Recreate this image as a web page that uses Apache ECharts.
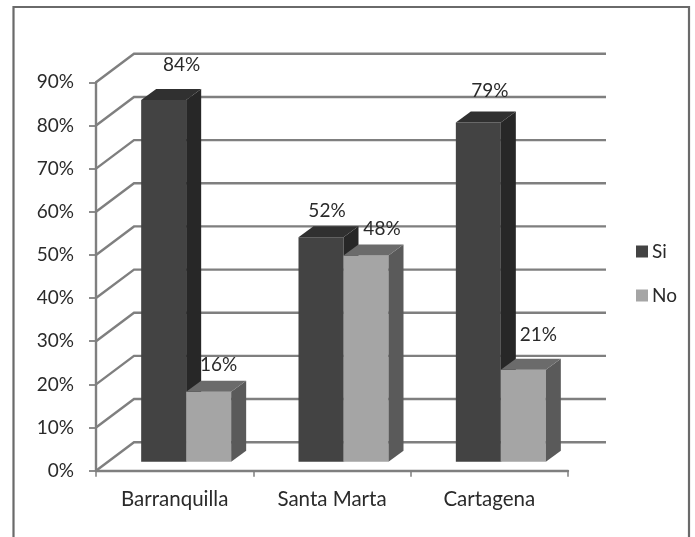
<!DOCTYPE html>
<html>
<head>
<meta charset="utf-8">
<style>html,body{margin:0;padding:0;background:#fff}#c{width:695px;height:537px;filter:blur(0.45px)}</style>
<script src="https://cdn.jsdelivr.net/npm/echarts@6/dist/echarts.min.js"></script>
</head>
<body>
<div id="c"></div>
<script>
const categories = ['Barranquilla', 'Santa Marta', 'Cartagena'];
const siValues = [83.8, 52, 78.6];
const noValues = [16.2, 47.8, 21.3];
const yTicks = [0, 10, 20, 30, 40, 50, 60, 70, 80, 90];

const FONT = 'Lato, "Noto Sans", sans-serif';
const TEXT = '#2a2a2a';
const LINE = '#7f7f7f';
// per-label nudge from the default spot (pixels)
const siNudge = [[18, -35], [6, -26], [11.5, -31.5]];
const noNudge = [[10, -27], [16, -27], [15, -35]];

const chart = echarts.init(document.getElementById('c'), null, {renderer: 'canvas'});

function wallItem(params, api) {
  const y = api.coord([0, api.value(1)])[1];
  const cs = params.coordSys;
  const x0 = cs.x, x1 = cs.x + cs.width;
  const style = {stroke: LINE, lineWidth: 2.4, fill: null};
  const dx = 38, dy = 28.5;
  return {type: 'polyline', shape: {points: [[x0, y], [x0 + dx, y - dy], [x1 + dx, y - dy]]}, style};
}

function barRenderer(side, front, sideColor, topColor, nudge) {
  return function (params, api) {
    const i = api.value(0), v = api.value(1);
    const cw = api.size([1, 0])[0];
    const w = cw * 0.286;
    const cx = api.coord([i, 0])[0] + 11.5;
    const base = api.coord([i, 0])[1] - 9;
    const top = base - (api.coord([i, 0])[1] - api.coord([i, v])[1]);
    const l = side < 0 ? cx - w : cx;
    const r = l + w;
    const dx = 15, dy = 11;
    const n = nudge[params.dataIndex];
    return {type: 'group', children: [
      {type: 'rect', shape: {x: l, y: top, width: w, height: base - top}, style: {fill: front}},
      {type: 'polygon', shape: {points: [[r, top], [r + dx, top - dy], [r + dx, base - dy], [r, base]]}, style: {fill: sideColor}},
      {type: 'polygon', shape: {points: [[l, top], [l + dx, top - dy], [r + dx, top - dy], [r, top]]}, style: {fill: topColor}},
      {type: 'text', z2: 100, style: {x: (l + r) / 2 + n[0], y: top + n[1], text: Math.round(v) + '%', fill: TEXT, font: '19px ' + FONT, align: 'center', verticalAlign: 'middle'}}
    ]};
  };
}

chart.setOption({
  animation: false,
  backgroundColor: '#fff',
  tooltip: {show: false},
  graphic: [{
    type: 'rect', silent: true, z: -1,
    shape: {x: 13.5, y: 7, width: 675.5, height: 540},
    style: {fill: null, stroke: '#6a6a6a', lineWidth: 2.2}
  }],
  grid: {left: 96, top: 82.3, width: 472, height: 388.4},
  legend: {
    data: ['Si', 'No'], orient: 'vertical', left: 636, top: 242, padding: 0,
    icon: 'rect', itemWidth: 12, itemHeight: 12, itemGap: 25,
    selectedMode: false,
    textStyle: {fontFamily: FONT, fontSize: 19, color: TEXT, padding: [0, 0, 0, -1]}
  },
  xAxis: {
    type: 'category', data: categories,
    axisLine: {lineStyle: {color: LINE, width: 2.4}},
    axisTick: {show: true, length: 6, lineStyle: {color: LINE, width: 1.5}},
    axisLabel: {fontFamily: FONT, fontSize: 20.5, color: TEXT, margin: 18},
    splitLine: {show: false}
  },
  yAxis: {
    type: 'value', min: 0, max: 90, interval: 10,
    axisLine: {show: true, lineStyle: {color: LINE, width: 2.4}},
    axisTick: {show: true, length: 7, lineStyle: {color: LINE, width: 1.8}},
    axisLabel: {fontFamily: FONT, fontSize: 19, color: TEXT, margin: 22, formatter: '{value}%'},
    splitLine: {show: false}
  },
  series: [
    {name: 'walls', type: 'custom', z: 1, silent: true, renderItem: wallItem,
      data: yTicks.map(t => [0, t]), encode: {x: 0, y: 1}},
    {name: 'Si', type: 'custom', z: 2, itemStyle: {color: '#434343'},
      renderItem: barRenderer(-1, '#434343', '#272727', '#303030', siNudge),
      data: siValues.map((v, i) => [i, v]), encode: {x: 0, y: 1}},
    {name: 'No', type: 'custom', z: 3, itemStyle: {color: '#a5a5a5'},
      renderItem: barRenderer(1, '#a5a5a5', '#5a5a5a', '#6b6b6b', noNudge),
      data: noValues.map((v, i) => [i, v]), encode: {x: 0, y: 1}}
  ]
});
</script>
</body>
</html>
